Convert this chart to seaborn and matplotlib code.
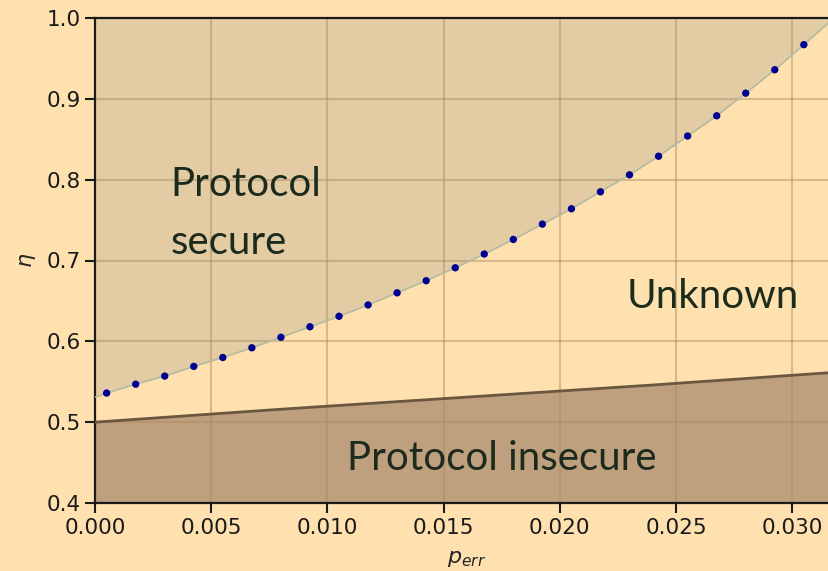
import numpy as np
import pandas as pd
import matplotlib
matplotlib.use('Agg')
import matplotlib.pyplot as plt
import seaborn as sns

# 数据：误码率 p_err 与 eta 的边界
p_err_pts = [0.0005, 0.00175, 0.003, 0.00425, 0.0055, 0.00675, 0.008, 0.00925,
             0.0105, 0.01175, 0.013, 0.01425, 0.0155, 0.01675, 0.018, 0.01925,
             0.0205, 0.02175, 0.023, 0.02425, 0.0255, 0.02675, 0.028, 0.02925, 0.0305]
eta_pts = [0.536, 0.547, 0.557, 0.569, 0.580, 0.592, 0.605, 0.618, 0.631,
           0.645, 0.660, 0.675, 0.691, 0.708, 0.726, 0.745, 0.764, 0.785,
           0.806, 0.829, 0.854, 0.879, 0.907, 0.936, 0.967]

# 上边界曲线（延伸到坐标轴两端）
secure_x = [0.0] + p_err_pts + [0.0318]
secure_y = [0.531] + eta_pts + [1.0]

# 下边界（不安全区域）
insecure_x = [0.0, 0.008, 0.016, 0.024, 0.032]
insecure_y = [0.500, 0.516, 0.531, 0.546, 0.562]

bg = '#FFE1B0'
sns.set_style('white')
plt.rcParams['font.family'] = ['DejaVu Sans']

fig = plt.figure(figsize=(8.29, 5.71), dpi=100, facecolor=bg)
ax = fig.add_axes([95 / 829, 68 / 571, 743.7 / 829, 485 / 571])
ax.set_facecolor(bg)

# 填充区域
ax.fill_between(secure_x, secure_y, 1.0, color='#E3CCA4', lw=0, zorder=1)
ax.fill_between(insecure_x, insecure_y, 0.4, color='#BFA07E', lw=0, zorder=1)

sns.lineplot(x=secure_x, y=secure_y, ax=ax, color='#B4BBA0', lw=1.2, zorder=3)
sns.lineplot(x=insecure_x, y=insecure_y, ax=ax, color='#6B5640', lw=2, zorder=3)
sns.scatterplot(x=p_err_pts, y=eta_pts, ax=ax, color='#000090', s=28,
                edgecolor='none', zorder=4)

ax.set_xlim(0, 0.032)
ax.set_ylim(0.4, 1.0)
ax.set_xticks([0.000, 0.005, 0.010, 0.015, 0.020, 0.025, 0.030])
ax.set_yticks([0.4, 0.5, 0.6, 0.7, 0.8, 0.9, 1.0])
ax.xaxis.set_major_formatter(matplotlib.ticker.FormatStrFormatter('%.3f'))
ax.yaxis.set_major_formatter(matplotlib.ticker.FormatStrFormatter('%.1f'))

ax.set_axisbelow('line')
ax.grid(True, color='#A8885F', lw=1.5, alpha=0.45)
for s in ['left', 'bottom', 'top']:
    ax.spines[s].set_color('#1a1a1a')
    ax.spines[s].set_linewidth(1.6)
ax.spines['right'].set_visible(False)
ax.tick_params(axis='both', direction='out', length=7, width=1.5,
               labelsize=15.5, colors='#1a1a1a', left=True, bottom=True)

ax.set_xlabel(r'$p_{err}$', fontsize=16, labelpad=8)
ax.set_ylabel(r'$\eta$', fontsize=16, labelpad=6)

txt_c = '#1C2B1C'
fnt = dict(family='Lato', fontsize=29, color=txt_c)
ax.text(0.00325, 0.758, 'Protocol\nsecure', ha='left', va='center',
        linespacing=1.72, **fnt)
ax.text(0.0266, 0.655, 'Unknown', ha='center', va='center', **fnt)
ax.text(0.01751, 0.4555, 'Protocol insecure', ha='center', va='center', **fnt)

fig.savefig('out.png', dpi=100, facecolor=bg)
